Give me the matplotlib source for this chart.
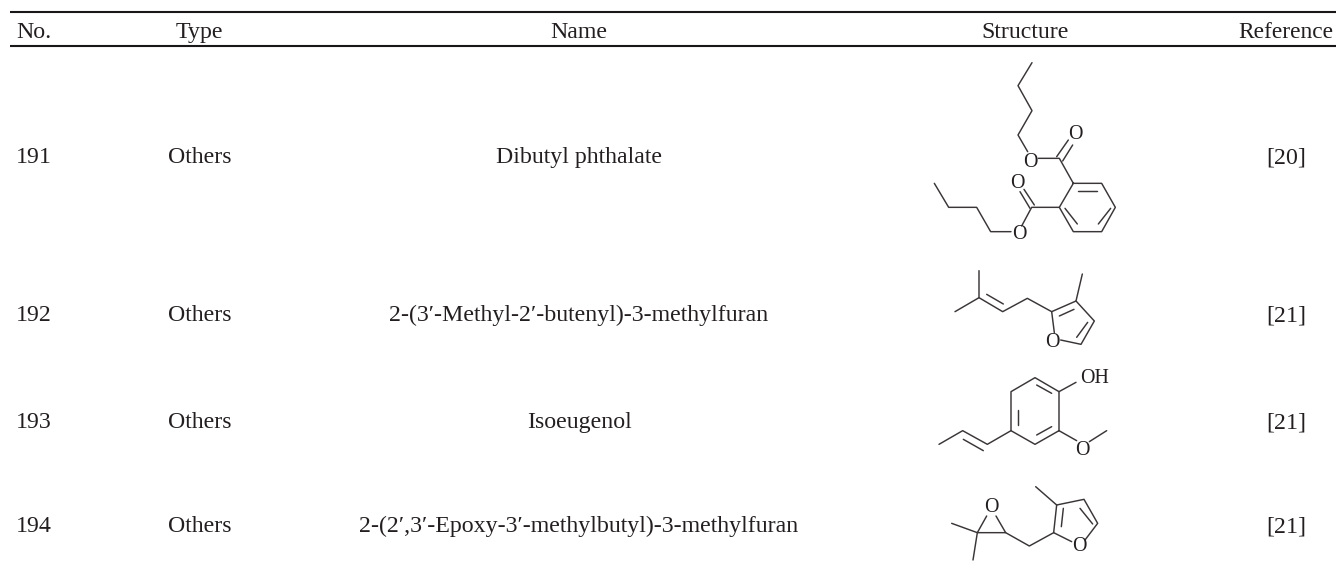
import matplotlib
matplotlib.use("Agg")
import matplotlib.pyplot as plt
from matplotlib.collections import LineCollection

plt.rcParams['font.family'] = ['Liberation Serif', 'DejaVu Serif']

headers = ["No.", "Type", "Name", "Structure", "Reference"]
numbers = ["191", "192", "193", "194"]
types = ["Others", "Others", "Others", "Others"]
names = ["Dibutyl phthalate",
         "2-(3\u2032-Methyl-2\u2032-butenyl)-3-methylfuran",
         "Isoeugenol",
         "2-(2\u2032,3\u2032-Epoxy-3\u2032-methylbutyl)-3-methylfuran"]
refs = ["[20]", "[21]", "[21]", "[21]"]
row_baseline = [163, 321, 428, 532]
header_baseline = 38

# Structures: bonds as point chains and atom labels, in zoomed-crop units (1/3 px)
s191_origin = (880, 50)
s191_bonds = [
    [(456,38),(414,107),(456,182),(414,255),(443,305)],
    [(475,325),(538,325),(580,400),(665,400),(706,472),(665,545),(580,545),(538,472),(580,400)],
    [(530,320),(565,270)], [(548,333),(578,285)],
    [(595,422),(650,422)], [(692,475),(655,522)], [(555,475),(592,522)],
    [(538,472),(455,472),(425,528)],
    [(450,475),(420,425)], [(463,465),(432,418)],
    [(393,545),(332,545),(290,472),(206,472),(163,400)],
]
s191_atoms = [("O",450,337),("O",585,254),("O",412,400),("O",417,552)]

s192_origin = (900, 260)
s192_bonds = [
    [(237,32),(237,113),(165,155)],
    [(237,113),(308,155),(382,115),(455,155),(528,123),(547,42)],
    [(260,103),(310,132)],
    [(455,155),(463,218)], [(482,240),(543,253),(583,183),(528,123)],
    [(478,168),(522,148)], [(563,187),(530,232)],
]
s192_atoms = [("O",457,247)]

s193_origin = (900, 410)
s193_bonds = [
    [(477,62),(405,103),(333,62),(333,-55),(405,-97),(477,-55),(477,62)],
    [(410,75),(455,50)], [(355,0),(355,45)], [(410,-75),(455,-50)],
    [(477,-55),(528,-83)],
    [(333,62),(262,103),(188,62),(117,103)], [(250,122),(190,88)],
    [(477,62),(530,92)], [(568,95),(620,62)],
]
s193_atoms = [("O",548,122),("OH",585,-95)]

s194_origin = (900, 410)
s194_bonds = [
    [(260,318),(232,368),(317,368),(288,318)],
    [(155,340),(232,368),(219,450)],
    [(317,368),(388,408),(461,368),(470,285),(552,268),(593,340),(555,390)],
    [(461,368),(515,395)],
    [(490,295),(484,350)], [(540,295),(578,342)],
    [(470,285),(407,230)],
]
s194_atoms = [("O",274,292),("O",537,410)]

structures = [(s191_origin, s191_bonds, s191_atoms),
              (s192_origin, s192_bonds, s192_atoms),
              (s193_origin, s193_bonds, s193_atoms),
              (s194_origin, s194_bonds, s194_atoms)]

INK = "#231f20"
FS = 17.2
fig = plt.figure(figsize=(13.36, 5.69), dpi=100)
ax = fig.add_axes([0, 0, 1, 1])
ax.set_xlim(0, 1336)
ax.set_ylim(569, 0)
ax.axis("off")

col_x = [16, 199.5, 579, 1025, 1286]
col_ha = ["left", "center", "center", "center", "center"]
col_fs = [FS, FS, FS, FS, 16.8]
for x, ha, fs, h in zip(col_x, col_ha, col_fs, headers):
    ax.text(x, header_baseline, h, ha=ha, va="baseline", fontsize=fs, color=INK)
for y, n, t, nm, r in zip(row_baseline, numbers, types, names, refs):
    ax.text(col_x[0], y, n, ha="left", va="baseline", fontsize=FS, color=INK)
    ax.text(col_x[1], y, t, ha="center", va="baseline", fontsize=FS, color=INK)
    ax.text(col_x[2], y, nm, ha="center", va="baseline", fontsize=FS, color=INK)
    ax.text(col_x[4], y, r, ha="center", va="baseline", fontsize=FS, color=INK)

for y in (12, 45.5):
    ax.plot([10, 1336], [y, y], color="#1a1718", lw=1.5, solid_capstyle="butt")

for (ox, oy), bonds, atoms in structures:
    segs = [[(ox + px / 3, oy + py / 3) for px, py in b] for b in bonds]
    ax.add_collection(LineCollection(segs, colors="#3a3637", linewidths=1.05,
                                     capstyle="round", joinstyle="round"))
    for label, px, py in atoms:
        ax.text(ox + px / 3, oy + py / 3, label, ha="center", va="center",
                fontsize=14.3, color=INK)

fig.savefig("out.png", dpi=100)
